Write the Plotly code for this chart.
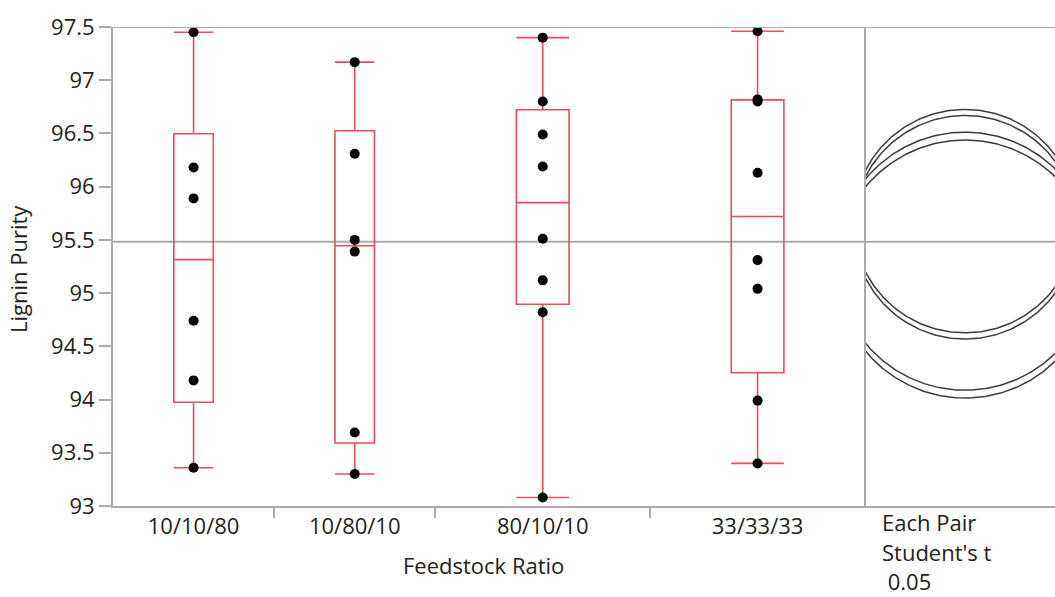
import numpy as np
import plotly.graph_objects as go

# ---------------- data ----------------
groups = ["10/10/80", "10/80/10", "80/10/10", "33/33/33"]
vals_10_10_80 = [97.45, 96.18, 95.89, 94.74, 94.18, 93.36]
vals_10_80_10 = [97.17, 96.31, 95.50, 95.39, 93.69, 93.30]
vals_80_10_10 = [97.40, 96.80, 96.49, 96.19, 95.51, 95.12, 94.82, 93.08]
vals_33_33_33 = [97.46, 96.82, 96.80, 96.13, 95.31, 95.04, 93.99, 93.40]
group_values = [vals_10_10_80, vals_10_80_10, vals_80_10_10, vals_33_33_33]

y_ticks = [93, 93.5, 94, 94.5, 95, 95.5, 96, 96.5, 97, 97.5]
y_min, y_max = 93, 97.5
alpha_label = ["Each Pair", "Student's t", " 0.05"]
T_CRIT = 2.0639  # t(0.975, df=24)

# ---------------- styling / layout constants ----------------
W, H = 1055, 597
ML, MR, MT, MB = 113, 0, 27, 91
plot_w = W - ML - MR
plot_h = H - MT - MB
SPLIT_PX = 865
d1 = (SPLIT_PX - ML) / plot_w
ppu = plot_h / (y_max - y_min)          # pixels per y unit
panel_w = W - SPLIT_PX
x2_span = panel_w / ppu
circ_cx = 100 / ppu

RED = "#EC4A5E"
GRAY = "#ABABAB"
TXT = "#222222"
FONT = "Open Sans, Noto Sans, sans-serif"
FS = 22

# ---------------- derived positions (proportional category widths) ----------------
ns = np.array([len(v) for v in group_values])
edges = np.concatenate([[0], np.cumsum(ns)])
centres = (edges[:-1] + edges[1:]) / 2

fig = go.Figure()

all_vals = np.concatenate([np.array(v, float) for v in group_values])
grand_mean = all_vals.mean()

for name, vals, cxp, n in zip(groups, group_values, centres, ns):
    v = np.array(vals, float)
    q1, med, q3 = np.percentile(v, [25, 50, 75], method="weibull")
    iqr = q3 - q1
    lo = v[v >= q1 - 1.5 * iqr].min()
    hi = v[v <= q3 + 1.5 * iqr].max()
    fig.add_trace(go.Box(
        x=[cxp], q1=[q1], median=[med], q3=[q3], lowerfence=[lo], upperfence=[hi],
        width=0.245 * n, whiskerwidth=1, boxpoints=False,
        line=dict(color=RED, width=1.6), fillcolor="rgba(0,0,0,0)",
        name=name, showlegend=False, xaxis="x", yaxis="y", hoverinfo="skip",
    ))

px_list, py_list = [], []
for vals, cxp in zip(group_values, centres):
    px_list += [cxp] * len(vals)
    py_list += list(vals)
fig.add_trace(go.Scatter(
    x=px_list, y=py_list, mode="markers",
    marker=dict(color="black", size=10), showlegend=False, xaxis="x", yaxis="y",
))

# comparison circles
sse = sum(((np.array(v) - np.mean(v)) ** 2).sum() for v in group_values)
dfe = len(all_vals) - len(group_values)
s_pooled = np.sqrt(sse / dfe)
theta = np.linspace(0, 2 * np.pi, 361)
for vals, n in zip(group_values, ns):
    m = np.mean(vals)
    r = T_CRIT * s_pooled / np.sqrt(n)
    fig.add_trace(go.Scatter(
        x=circ_cx + r * np.cos(theta), y=m + r * np.sin(theta), mode="lines",
        line=dict(color="#3c3c3c", width=1.5), showlegend=False,
        xaxis="x2", yaxis="y", hoverinfo="skip",
    ))

fig.update_layout(
    width=W, height=H, margin=dict(l=ML, r=MR, t=MT, b=MB),
    paper_bgcolor="white", plot_bgcolor="white",
    font=dict(family=FONT, size=FS, color=TXT),
    showlegend=False,
    xaxis=dict(
        domain=[0, d1], range=[edges[0], edges[-1]],
        tickmode="array", tickvals=centres, ticktext=groups, ticks="",
        showgrid=False, zeroline=False, showline=True, linecolor=GRAY, linewidth=2,
        minor=dict(tickmode="array", tickvals=list(edges[1:-1]), ticks="outside",
                   ticklen=10, tickwidth=2, tickcolor=GRAY, showgrid=False),
        tickfont=dict(size=FS, color=TXT), ticklabelstandoff=0,
    ),
    xaxis2=dict(
        domain=[d1, 1], range=[0, x2_span], anchor="y",
        showgrid=False, zeroline=False, showline=True, linecolor=GRAY, linewidth=2,
        showticklabels=False, ticks="",
    ),
    yaxis=dict(
        range=[y_min, y_max], tickmode="array", tickvals=y_ticks,
        ticktext=[f"{t:g}" for t in y_ticks],
        ticks="outside", ticklen=12, tickwidth=2, tickcolor=GRAY,
        showgrid=False, zeroline=False, showline=True, linecolor=GRAY, linewidth=2,
        tickfont=dict(size=FS, color=TXT),
    ),
    shapes=[
        dict(type="line", xref="paper", yref="y", x0=0, x1=1, y0=y_max, y1=y_max,
             line=dict(color=GRAY, width=2)),
        dict(type="line", xref="paper", yref="y", x0=0, x1=1, y0=grand_mean, y1=grand_mean,
             line=dict(color=GRAY, width=2), layer="below"),
        dict(type="line", xref="x2 domain", yref="y", x0=0, x1=0, y0=y_min, y1=y_max,
             line=dict(color=GRAY, width=2)),
    ],
    annotations=[
        dict(text="Lignin Purity", xref="paper", yref="paper",
             x=(18 - ML) / plot_w, y=(H - MB - 269) / plot_h,
             xanchor="center", yanchor="middle",
             textangle=-90, showarrow=False, font=dict(size=FS, color=TXT)),
        dict(text="Feedstock Ratio", xref="paper", yref="paper",
             x=(483 - ML) / plot_w, y=(H - MB - 565) / plot_h,
             xanchor="center", yanchor="middle", showarrow=False,
             font=dict(size=FS, color=TXT)),
    ] + [
        dict(text=t, xref="paper", yref="paper",
             x=(880 - ML) / plot_w, y=(H - MB - py) / plot_h,
             xanchor="left", yanchor="middle", showarrow=False,
             font=dict(size=FS, color=TXT))
        for t, py in zip(alpha_label, [522, 552, 581])
    ],
)

fig.write_html(
    "out.html",
    config={"displayModeBar": False},
    post_script="document.body.style.margin='0px';document.body.style.overflow='hidden';",
)
